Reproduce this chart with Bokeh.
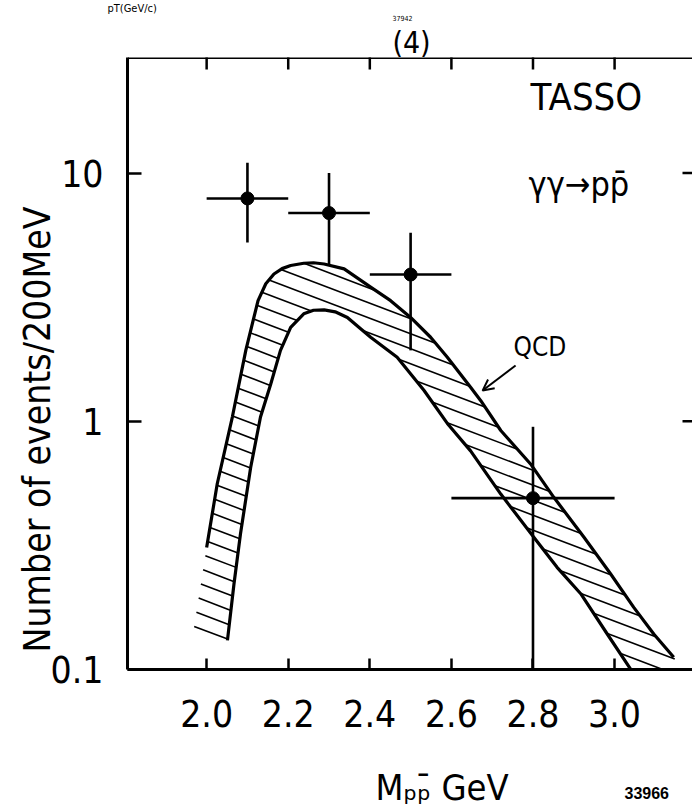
import numpy as np
from bokeh.plotting import figure
from bokeh.models import (FixedTicker, CustomJSTickFormatter, Label, Arrow, OpenHead,
                          Range1d, Span)
from bokeh.embed import file_html
from bokeh.resources import INLINE

# ---------------- data ----------------
bin_lo = [2.0, 2.2, 2.4, 2.6]
bin_hi = [2.2, 2.4, 2.6, 3.0]
mass = [2.1, 2.3, 2.5, 2.8]
events = [7.9, 6.9, 3.9, 0.49]
events_hi = [11.0, 10.0, 5.75, 0.95]
events_lo = [5.25, 4.3, 1.93, 0.1]

# QCD band: upper edge (first point = hatched tail without outline)
qcd_upper_x = [1.968, 2.0, 2.026, 2.063, 2.096, 2.116, 2.126, 2.145, 2.165, 2.185, 2.206,
               2.238, 2.262, 2.288, 2.337, 2.402, 2.451, 2.5, 2.549, 2.590, 2.647, 2.672,
               2.721, 2.794, 2.851, 2.925, 2.990, 3.047, 3.096, 3.145, 3.175]
qcd_upper_y = [0.144, 0.31, 0.56, 1.04, 1.93, 2.63, 3.06, 3.58, 3.92, 4.12, 4.24,
               4.33, 4.35, 4.30, 4.11, 3.47, 3.06, 2.62, 2.18, 1.81, 1.37, 1.21,
               0.918, 0.673, 0.494, 0.341, 0.243, 0.178, 0.139, 0.112, 0.092]
# lower edge
qcd_lower_x = [2.051, 2.067, 2.083, 2.108, 2.132, 2.157, 2.181, 2.206, 2.238, 2.262, 2.288,
               2.315, 2.345, 2.402, 2.467, 2.533, 2.590, 2.647, 2.721, 2.802, 2.859, 2.917,
               2.982, 3.047]
qcd_lower_y = [0.131, 0.221, 0.352, 0.653, 1.04, 1.41, 1.93, 2.39, 2.71, 2.80, 2.81,
               2.76, 2.62, 2.18, 1.81, 1.33, 0.98, 0.76, 0.509, 0.341, 0.258, 0.202,
               0.139, 0.096]

x_ticks = [2.0, 2.2, 2.4, 2.6, 2.8, 3.0]
x_tick_labels = ["2.0", "2.2", "2.4", "2.6", "2.8", "3.0"]
y_ticks = [0.1, 1, 10]
y_tick_labels = ["0.1", "1", "10"]

# ---------------- layout constants ----------------
X0, X1 = 1.806, 3.191
Y0, Y1 = 0.1, 29.2
FONT = "DejaVu Sans Condensed"
PX_PER_X = 408.0      # screen px per GeV
PX_PER_DEC = 248.3    # screen px per decade


def fx(px):
    return 2.0 + (px - 206.0) / PX_PER_X


def fy(py):
    return 10 ** (-1 + (669.0 - py) / PX_PER_DEC)


p = figure(width=692, height=809, output_backend="svg", toolbar_location=None,
           y_axis_type="log", x_range=Range1d(X0, X1), y_range=Range1d(Y0, Y1),
           min_border_left=127, min_border_right=0, min_border_top=57,
           min_border_bottom=140)
p.outline_line_color = None
p.grid.visible = False
p.background_fill_color = "white"
p.border_fill_color = "white"

xfmt = CustomJSTickFormatter(args=dict(tks=x_ticks, lbls=x_tick_labels), code="""
const i = tks.findIndex(t => Math.abs(t - tick) < 1e-6);
return i >= 0 ? lbls[i] : '';
""")
yfmt = CustomJSTickFormatter(args=dict(tks=y_ticks, lbls=y_tick_labels), code="""
const i = tks.findIndex(t => Math.abs(t - tick) / t < 1e-6);
return i >= 0 ? lbls[i] : '';
""")

xa = p.xaxis[0]
xa.ticker = FixedTicker(ticks=x_ticks, minor_ticks=[])
xa.formatter = xfmt
ya = p.yaxis[0]
ya.ticker = FixedTicker(ticks=y_ticks, minor_ticks=[])
ya.formatter = yfmt

for ax in (xa, ya):
    ax.axis_line_width = 3
    ax.axis_line_color = "black"
    ax.major_tick_line_width = 2.5
    ax.major_tick_line_color = "black"
    ax.major_tick_out = 0
    ax.minor_tick_line_color = None
    ax.major_label_text_font = FONT
    ax.major_label_text_color = "black"
    ax.major_label_text_font_size = "37px"

xa.major_tick_in = 11
xa.major_label_standoff = 30
ya.major_tick_in = 14
ya.major_label_standoff = 24

# top frame line and inward ticks on top / right (half of each dash is clipped by the frame)
p.add_layout(Span(location=Y1, dimension="width", line_color="black", line_width=3))
p.scatter(x_ticks, [Y1] * len(x_ticks), marker="dash", angle=np.pi / 2, size=24,
          line_color="black", line_width=2.5)
p.scatter([X1] * 2, y_ticks[1:], marker="dash", size=20, line_color="black", line_width=2.5)

# ---------------- QCD band: hatch computed from band edges ----------------
ux = np.array(qcd_upper_x); uy = np.array(qcd_upper_y)
lx = np.array(qcd_lower_x); ly = np.array(qcd_lower_y)
poly_u = np.concatenate([ux, lx[::-1]]) * PX_PER_X
poly_v = np.log10(np.concatenate([uy, ly[::-1]])) * PX_PER_DEC
n = len(poly_u)
SLOPE = 0.38     # hatch slant (screen px down per px right)
SPACING = 15.0   # vertical spacing of hatch lines in px
w0 = poly_v + SLOPE * poly_u
hx, hy = [], []
for c in np.arange(w0.min() + 4, w0.max(), SPACING):
    pts = []
    for i in range(n):
        j = (i + 1) % n
        a, b = w0[i] - c, w0[j] - c
        if (a > 0) != (b > 0):
            t = a / (a - b)
            pts.append((poly_u[i] + t * (poly_u[j] - poly_u[i]),
                        poly_v[i] + t * (poly_v[j] - poly_v[i])))
    pts.sort()
    for k in range(0, len(pts) - 1, 2):
        (u1, v1), (u2, v2) = pts[k], pts[k + 1]
        hx.append([u1 / PX_PER_X, u2 / PX_PER_X])
        hy.append([10 ** (v1 / PX_PER_DEC), 10 ** (v2 / PX_PER_DEC)])
p.multi_line(hx, hy, line_color="black", line_width=1.6)

p.line(qcd_upper_x[1:-1], qcd_upper_y[1:-1], line_color="black", line_width=3.2,
       line_join="round")
p.line(qcd_lower_x, qcd_lower_y, line_color="black", line_width=3.2, line_join="round")

# ---------------- data points ----------------
p.segment(x0=bin_lo, x1=bin_hi, y0=events, y1=events, line_color="black", line_width=2.6)
p.segment(x0=mass, x1=mass, y0=events_lo, y1=events_hi, line_color="black", line_width=2.6)
p.scatter(mass, events, size=13, color="black")


# ---------------- texts inside the frame ----------------
def lab_in(text, px, py, size, align="left"):
    p.add_layout(Label(x=fx(px), y=fy(py), text=text, text_font=FONT,
                       text_font_size=size, text_align=align, text_baseline="middle",
                       text_color="black"))


lab_in("TASSO", 530, 96, "38px")
lab_in("\u03b3\u03b3\u2192pp\u0304", 528, 183, "34px")
lab_in("QCD", 513, 346, "26px")


# ---------------- texts outside the frame (canvas pixels, Labels in side panels) ----------------
def lab_out(text, cx, cy, size, side, align="left", angle=0.0, style="normal", font=FONT):
    p.add_layout(Label(x=cx, y=cy, x_units="canvas", y_units="canvas", text=text,
                       text_font=font, text_font_size=size, text_align=align,
                       text_baseline="middle", angle=angle, text_font_style=style,
                       text_color="black"), side)


lab_out("(4)", 411, 42, "30px", "above", align="center")
lab_out("37942", 402, 17, "7px", "above", align="center")
lab_out("pT(GeV/c)", 107, 8, "11px", "above")
lab_out("Number of events/200MeV", 37, 429, "37px", "left", align="center",
        angle=float(np.pi / 2))
lab_out("M\u209a\u209a\u0304 GeV", 375, 787, "36px", "below")
lab_out("33966", 624, 792, "16px", "below", style="bold", font="Liberation Sans")

p.add_layout(Arrow(end=OpenHead(size=11, line_width=2, line_color="black"),
                   x_start=fx(515), y_start=fy(365), x_end=fx(482), y_end=fy(390),
                   line_width=2, line_color="black"))

open("out.html", "w").write(file_html(p, INLINE))
